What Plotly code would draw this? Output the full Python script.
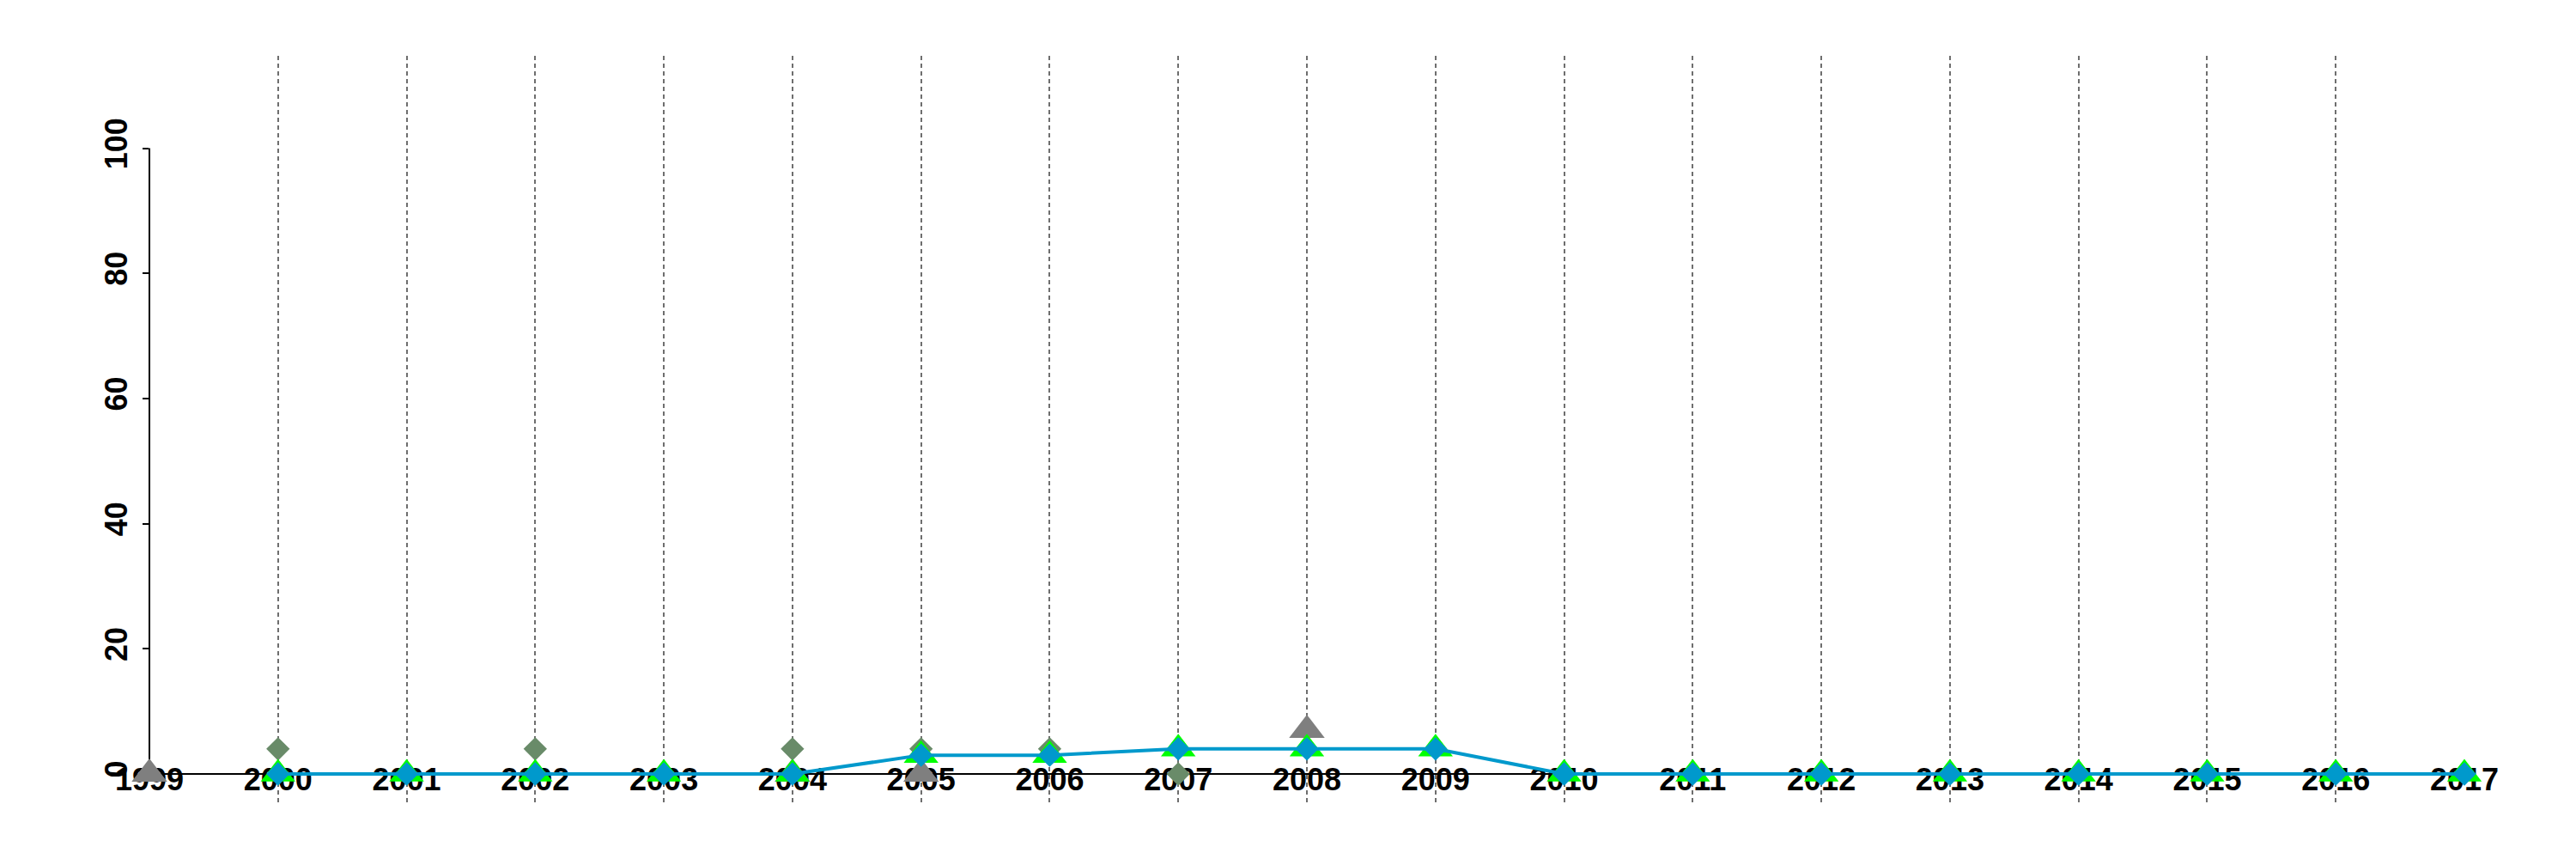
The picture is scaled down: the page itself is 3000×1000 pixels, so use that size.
import plotly.graph_objects as go

# ---- data ----
years = list(range(1999, 2018))
x_tick_labels = [str(y) for y in years]
y_ticks = [0, 20, 40, 60, 80, 100]

blue_years = years[1:]
blue_vals = [0, 0, 0, 0, 0, 3, 3, 4, 4, 4, 0, 0, 0, 0, 0, 0, 0, 0]

green_years = years[1:]
green_vals = [0, 0, 0, 0, 0, 3, 3, 4, 4, 4, 0, 0, 0, 0, 0, 0, 0, 0]

dkgreen_years = [2000, 2002, 2004, 2005, 2006, 2007]
dkgreen_vals = [4, 4, 4, 4, 4, 0]

grey_years = [1999, 2004, 2005, 2008]
grey_vals = [0, 0, 0, 7]

# ---- styling ----
FONT = dict(family="Liberation Sans, Arial, sans-serif", size=36, color="black", weight="bold")
Y_RANGE = [-5.08, 114.76]
AXIS_POS = 5.08 / (114.76 + 5.08)

fig = go.Figure()

fig.add_trace(go.Scatter(
    x=grey_years, y=grey_vals, mode="markers", cliponaxis=False,
    marker=dict(symbol="triangle-up", size=36, color="#7F7F7F", line=dict(width=0)),
    hoverinfo="skip", showlegend=False))

fig.add_trace(go.Scatter(
    x=dkgreen_years, y=dkgreen_vals, mode="markers", cliponaxis=False,
    marker=dict(symbol="diamond", size=21, color="#698B69", line=dict(width=0)),
    hoverinfo="skip", showlegend=False))

fig.add_trace(go.Scatter(
    x=green_years, y=green_vals, mode="markers", cliponaxis=False,
    marker=dict(symbol="triangle-up", size=35, color="#00FF00", line=dict(width=0)),
    hoverinfo="skip", showlegend=False))

fig.add_trace(go.Scatter(
    x=blue_years, y=blue_vals, mode="lines+markers", cliponaxis=False, xaxis="x2",
    line=dict(color="#0099CC", width=4),
    marker=dict(symbol="diamond", size=21, color="#0099CC", line=dict(width=0)),
    hoverinfo="skip", showlegend=False))

fig.add_shape(type="line", xref="paper", x0=0, x1=0, yref="y",
              y0=y_ticks[0], y1=y_ticks[-1], layer="below",
              line=dict(color="black", width=2))

fig.update_layout(
    width=3000, height=1000,
    margin=dict(l=166, r=138, t=57, b=70, autoexpand=False),
    paper_bgcolor="white", plot_bgcolor="white",
    showlegend=False,
    xaxis=dict(range=[years[0], years[-1]], anchor="free", position=AXIS_POS,
               layer="below traces", automargin=False,
               showline=True, linecolor="black", linewidth=2,
               ticks="", tickmode="array", tickvals=years, ticktext=x_tick_labels,
               tickfont=FONT, ticklabelstandoff=-25,
               showgrid=False, zeroline=False),
    xaxis2=dict(range=[years[0], years[-1]], overlaying="x", anchor="free", position=AXIS_POS,
                layer="below traces", automargin=False,
                showline=False, ticks="", showticklabels=False,
                tickmode="array", tickvals=years[1:],
                showgrid=True, gridcolor="#6E6E6E", gridwidth=2, griddash="5px,4px",
                zeroline=False),
    yaxis=dict(range=Y_RANGE, tickmode="array", tickvals=y_ticks,
               ticktext=[str(v) for v in y_ticks],
               layer="below traces", automargin=False,
               ticks="outside", ticklen=7, tickwidth=2, tickcolor="black",
               ticklabelstandoff=4,
               showline=False, showgrid=False, zeroline=False,
               tickangle=-90, tickfont=FONT),
)

fig.write_html("out.html")
